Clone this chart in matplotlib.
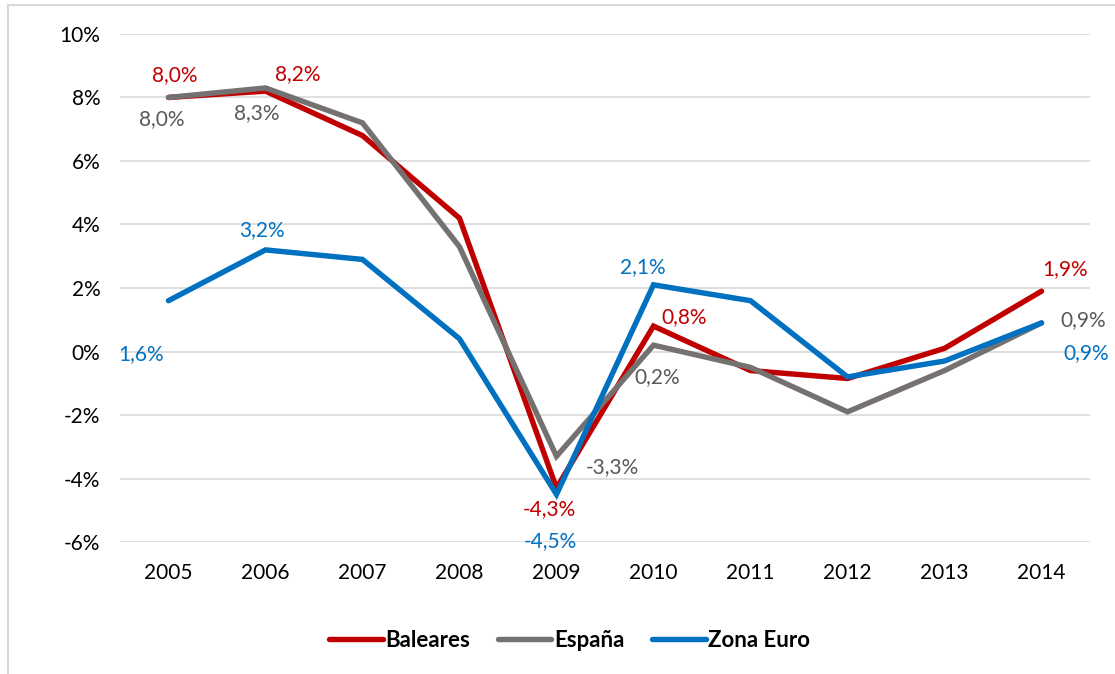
import matplotlib.pyplot as plt
from matplotlib.patches import Rectangle

plt.rcParams['font.family'] = ['Lato', 'DejaVu Sans']

years = [2005, 2006, 2007, 2008, 2009, 2010, 2011, 2012, 2013, 2014]
baleares = [8.0, 8.2, 6.8, 4.2, -4.3, 0.8, -0.6, -0.85, 0.1, 1.9]
espana = [8.0, 8.3, 7.2, 3.3, -3.3, 0.2, -0.5, -1.9, -0.6, 0.9]
zona_euro = [1.6, 3.2, 2.9, 0.4, -4.5, 2.1, 1.6, -0.8, -0.3, 0.9]

# which points get a value label, and label offset in pixels (dx, dy down)
bal_labels = {2005: (6, -22), 2006: (32, -17), 2009: (-7, 21), 2010: (31, -9), 2014: (24, -22)}
esp_labels = {2005: (-7, 22), 2006: (-9, 25), 2009: (56, 11), 2010: (4, 32), 2014: (42, -3)}
eur_labels = {2005: (-27, 53), 2006: (-4, -20), 2009: (-6, 47), 2010: (-11, -18), 2014: (45, 30)}

red = '#C00000'
gray = '#767171'
blue = '#0070C0'

fig = plt.figure(figsize=(11.15, 6.74), dpi=100)
ax = fig.add_axes([0.1076, 0.1958, 0.870, 0.7538])

x = list(range(len(years)))
series = [
    ('Baleares', baleares, red, red, bal_labels),
    ('España', espana, gray, '#595959', esp_labels),
    ('Zona Euro', zona_euro, blue, blue, eur_labels),
]
for name, vals, col, lcol, labels in series:
    ax.plot(x, vals, color=col, lw=3.9, solid_capstyle='round', solid_joinstyle='miter', label=name)

for name, vals, col, lcol, labels in series:
    for yr, (dx, dy) in labels.items():
        i = years.index(yr)
        ax.annotate(f'{vals[i]:.1f}%'.replace('.', ','), (x[i], vals[i]),
                    xytext=(dx * 0.72, -dy * 0.72), textcoords='offset points',
                    ha='center', va='center', color=lcol, fontsize=15)

ax.set_xlim(-0.5, len(years) - 0.5)
ax.set_ylim(-6, 10)
ax.set_yticks(range(-6, 11, 2))
ax.set_yticklabels([f'{v}%' for v in range(-6, 11, 2)])
ax.set_xticks(x)
ax.set_xticklabels([str(y) for y in years])
ax.tick_params(length=0, labelsize=15)
ax.tick_params(axis='y', pad=14)
ax.tick_params(axis='x', pad=15)
ax.grid(axis='y', color='#d9d9d9', lw=1.2)
ax.set_axisbelow(True)
for s in ax.spines.values():
    s.set_visible(False)

leg = fig.legend(loc='center', bbox_to_anchor=(0.511, 0.05), ncol=3, frameon=False,
                 handlelength=2.4, handletextpad=0.12, columnspacing=1.25,
                 prop={'weight': 'bold', 'size': 16})

fig.patches.append(Rectangle((8 / 1115, -0.01), 1.0, 1 - 5 / 674 + 0.01, transform=fig.transFigure,
                             fill=False, edgecolor='#d9d9d9', lw=1.5))

fig.savefig('out.png', dpi=100)
